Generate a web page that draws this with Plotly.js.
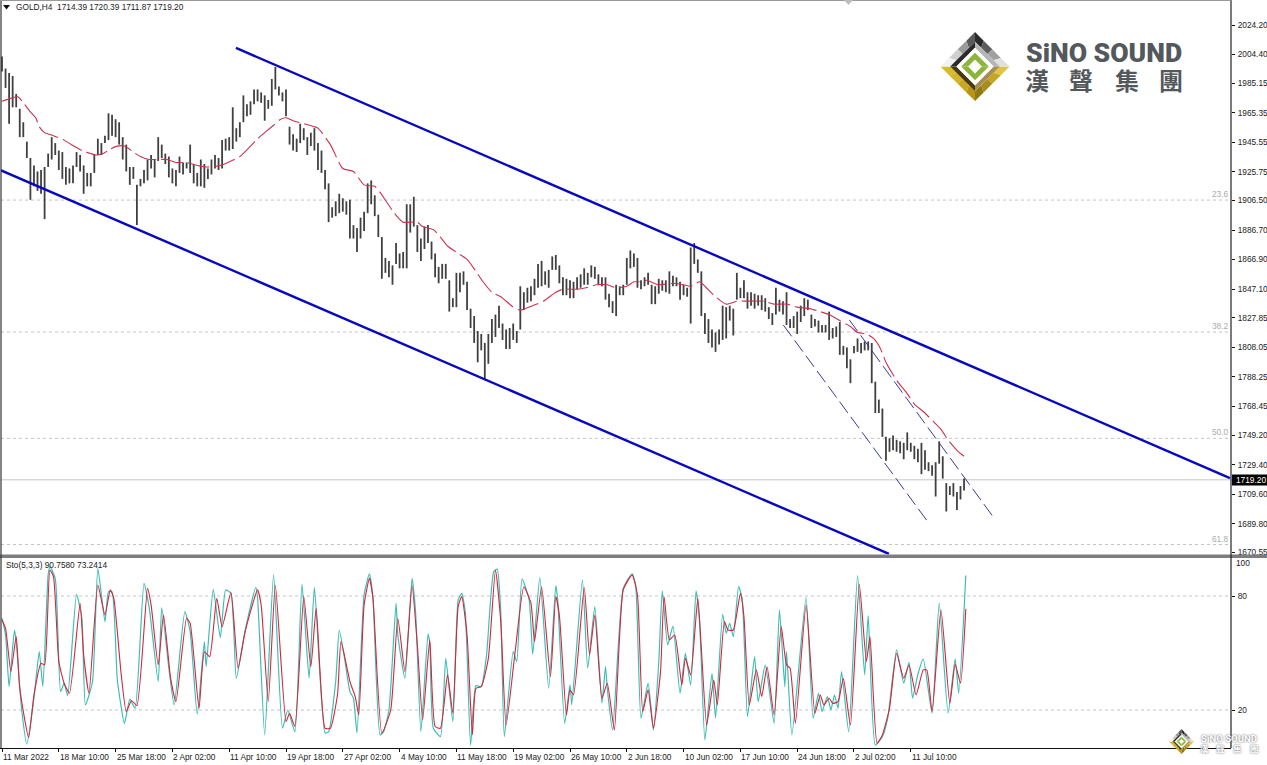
<!DOCTYPE html>
<html><head><meta charset="utf-8">
<script src="https://cdn.plot.ly/plotly-3.0.1.min.js"></script>
<style>html,body{margin:0;padding:0;background:#fff;overflow:hidden}#c{width:1267px;height:765px}</style>
</head><body><div id="c"></div>
<script>
// Bar highs and lows (one drawn bar per two H4 bars)
var barHigh=[2003,1995,1992,1990,1978,1968,1959,1946,1935,1930,1926,1927,1929,1938,1949,1945,1940,1939,1929,1928,1930,1939,1937,1930,1925,1925,1937,1948,1945,1950,
1965,1964,1961,1959,1949,1944,1929,1929,1917,1921,1927,1934,1937,1934,1949,1944,1938,1936,1928,1927,1936,1932,1932,1944,1931,1925,1934,1931,1928,1934,
1937,1935,1947,1948,1949,1969,1955,1959,1977,1971,1973,1981,1981,1979,1977,1974,1988,1996,1983,1979,1981,1956,1951,1948,1958,1955,1949,1952,1955,1945,
1940,1927,1918,1902,1906,1911,1908,1906,1907,1890,1888,1895,1899,1918,1920,1910,1897,1882,1868,1866,1863,1878,1871,1872,1904,1904,1909,1890,1881,1889,
1890,1879,1871,1862,1864,1864,1853,1841,1858,1858,1859,1852,1834,1829,1819,1817,1811,1817,1827,1830,1836,1824,1820,1821,1824,1819,1849,1845,1848,1849,
1854,1864,1866,1859,1860,1869,1870,1863,1855,1854,1853,1852,1855,1857,1861,1858,1863,1862,1857,1855,1855,1844,1839,1850,1849,1850,1868,1873,1871,1868,
1853,1855,1858,1850,1849,1854,1853,1853,1859,1856,1855,1852,1850,1848,1875,1878,1867,1859,1831,1827,1820,1818,1820,1836,1835,1836,1834,1858,1848,1853,
1845,1845,1844,1843,1843,1841,1835,1831,1848,1840,1839,1845,1827,1829,1832,1836,1841,1840,1830,1827,1826,1823,1823,1832,1821,1822,1825,1809,1808,1800,
1809,1814,1811,1812,1812,1811,1785,1773,1767,1748,1747,1749,1746,1745,1744,1751,1744,1742,1740,1744,1739,1731,1729,1731,1745,1735,1717,1715,1717,1711,1715,1720];
var barLow=[1993,1982,1958,1969,1969,1949,1949,1935,1907,1916,1913,1911,1894,1929,1934,1937,1927,1921,1917,1918,1918,1929,1926,1911,1916,1916,1925,1937,1937,1945,
1947,1950,1949,1944,1934,1926,1917,1921,1890,1916,1918,1920,1928,1922,1933,1935,1931,1922,1918,1916,1925,1924,1928,1925,1918,1916,1916,1915,1921,1924,
1928,1927,1928,1940,1940,1941,1946,1949,1959,1963,1964,1971,1973,1972,1960,1968,1970,1981,1977,1973,1963,1944,1940,1939,1945,1947,1937,1943,1940,1927,
1925,1914,1892,1895,1896,1898,1899,1897,1881,1881,1872,1881,1886,1898,1904,1896,1882,1854,1858,1855,1850,1864,1861,1861,1861,1885,1889,1872,1866,1874,
1878,1867,1855,1851,1854,1854,1832,1835,1835,1845,1850,1833,1821,1811,1798,1806,1786,1797,1811,1815,1821,1813,1807,1807,1813,1811,1820,1833,1838,1839,
1843,1848,1849,1850,1848,1860,1860,1851,1843,1843,1841,1841,1847,1848,1850,1850,1855,1854,1850,1849,1840,1835,1831,1829,1843,1843,1850,1861,1862,1848,
1847,1849,1850,1837,1837,1844,1846,1845,1844,1849,1849,1840,1843,1842,1824,1864,1858,1829,1817,1811,1808,1805,1810,1813,1814,1826,1816,1840,1841,1841,
1834,1836,1834,1836,1833,1832,1827,1823,1830,1832,1830,1823,1821,1821,1817,1825,1829,1833,1821,1822,1818,1818,1818,1813,1814,1815,1803,1803,1794,1784,
1804,1805,1804,1806,1806,1784,1764,1764,1748,1732,1738,1739,1738,1737,1733,1739,1738,1733,1731,1723,1726,1725,1722,1708,1730,1720,1698,1709,1708,1699,1706,1712];

// Moving average
var maIdx=[0,5,9,12,16,19,21,24,29,35,39,45,50,53,57,61,65,69,74,78,83,87,93,98,104,110,115,123,129,134,140,144,149,153,157,160,164,170,176,178,185,192,198,204,210,213,217,221,226,234,237,243,247,251,257,262,267,271,276,281,288,292,299,305,312,316,324,329,335,341,346,352,356,359,363,370,378,384,388,393,396,401,408,414,420,429,435,442,448,455,461,466,472,478,482,487,491,495,498,504,510,514,519,525,529,533,538,542];
var maVal=[1973,1975,1976,1972,1966,1962,1956,1952,1950,1947,1944,1940,1938,1937,1938,1941,1943,1943,1939,1936,1934,1934,1934,1932,1932,1930,1929,1930,1933,1936,1943,1948,1953,1957,1961,1962,1960,1958,1956,1955,1944,1928,1926,1917,1916,1912,1905,1898,1892,1892,1889,1887,1882,1876,1871,1867,1859,1852,1845,1842,1835,1833,1836,1839,1845,1847,1847,1848,1850,1850,1848,1849,1852,1852,1853,1850,1851,1850,1849,1852,1849,1843,1837,1839,1839,1839,1837,1837,1835,1834,1832,1830,1826,1822,1818,1817,1814,1807,1798,1786,1777,1770,1765,1758,1753,1746,1739,1735];

// Stochastic
var kIdx=[0,2,4,7,8,11,14,18,21,23,26,27,30,33,35,37,42,45,47,51,54,58,60,62,65,69,72,75,80,83,88,90,94,97,103,106,110,114,115,119,123,126,129,132,137,143,144,148,153,158,161,165,169,173,176,182,184,188,190,193,196,198,200,204,207,209,213,215,218,222,223,227,231,233,236,240,241,243,247,250,254,257,259,261,264,267,270,273,277,279,281,283,288,290,293,297,299,303,308,312,313,317,320,321,327,330,334,338,340,341,344,350,355,357,360,364,367,370,372,375,378,382,385,388,391,393,396,400,402,406,408,410,412,415,417,420,424,426,430,435,438,441,442,445,453,457,460,462,465,467,469,471,473,477,482,486,488,492,496,499,504,508,511,513,516,519,524,528,533,537,539,543];
var kVal=[68.3,59.5,32.3,62.1,56,20.9,2,26.2,50.7,32.3,91.1,95.5,89.3,29.7,34.1,27.6,80.9,68.3,22.7,35,94.6,66.5,82.3,82.3,35.8,13,25.8,20.9,86.7,73.5,35,73.9,42,22.7,71.8,61.3,17.8,56,42.8,83.5,58.1,83.2,81.4,36.7,62.1,84.6,78.8,6.9,91.1,10.4,20,8.6,86.2,36.7,84.6,7.8,8.6,35,62.1,47.2,29.7,26.2,7.8,80.6,91.6,78.8,6.9,8.6,20,76.2,59.5,36.7,89.3,71.8,8.6,60,55.1,10.4,6,47.2,13.9,77.9,81.4,71.8,1.6,32.8,32.3,49,92.8,94.2,71.8,6,50.7,45.5,89,77.9,49.3,89.8,31.4,85.5,78.8,13,33.2,22.7,88.4,42,74.4,23.5,42.8,31.4,9.5,84,91.6,85.8,15.7,34.1,9.5,45,82.7,54.2,64.2,28.8,49.8,33.2,82.7,66.5,4.3,39.3,15.7,70.4,60.4,65.6,58.6,84.9,78.8,16.5,48.1,24.4,43.7,13,72.7,32.3,50.7,6.9,79.1,15.7,28.8,19.2,27.1,20,27.9,20.9,40.2,8.6,90.7,38.5,69.7,1.6,6,15.7,51.6,34.1,45.1,26.2,38.8,46.9,18.3,76.2,18.3,46.9,28.8,90.76];
var dIdx=[0,2,5,8,10,15,18,22,24,27,29,32,35,38,44,46,49,54,58,61,63,67,70,73,76,82,84,88,91,95,98,104,106,111,114,117,121,124,129,133,137,144,146,150,154,160,162,165,170,174,177,182,185,189,191,196,199,201,204,207,209,214,219,223,227,231,234,237,241,244,247,251,254,257,259,262,265,267,270,274,278,281,284,289,294,298,300,304,309,312,314,318,320,322,328,331,334,338,341,345,350,355,358,361,364,367,371,373,376,379,383,385,388,392,394,397,401,403,407,409,412,416,418,421,425,428,431,435,439,442,444,447,453,458,461,463,466,468,471,474,478,483,487,489,493,496,500,504,508,511,515,519,521,524,529,534,537,540,543];
var dVal=[67.4,63,40.2,58.6,31.4,5.5,27.9,44.6,43.7,93.7,90.2,45.5,34.1,28.8,76.2,49,28.8,85.8,70,83.2,78.8,40.2,19.2,25,22.3,84,75.3,43.7,70,36.7,24.4,68.3,65.6,20.9,50.7,48.1,78.8,63.9,81.8,42,61.3,83.2,75.3,24.4,85.8,13.9,18.3,11.3,79.7,42.8,73.5,10.4,10.4,27.9,56,35,27,17.4,75.3,89.3,78.8,7.8,20,68.3,40.2,85.5,54.2,14.8,56.9,11.3,10.4,38.5,18.3,74.4,79.7,59.5,6.9,31.4,32.3,47.2,93.7,66.5,12.1,49.9,84.9,76.2,56,84.9,37.6,79.7,70,17.4,30.6,27.9,84.6,49,70,26.2,34.1,9.5,83.2,91.1,80.6,19.2,30.6,10.4,40.2,79.7,56.9,59.5,33.2,47.2,38.5,78.8,52.5,12.1,35.8,22.7,66.5,62.1,62.1,81.4,69.2,22.7,41.1,27.1,42.8,17.4,63.9,43.7,42,13,75.3,18.3,27.9,22.7,26.2,23.5,24.4,36.7,12.1,86.2,45.5,58.6,2.5,6.9,20.9,49.9,36.7,43.7,27.9,41.1,41.1,19.2,72.7,23.5,44.1,34.1,73.24];

// Axes
var priceTicks=[2024.20,2004.40,1985.15,1965.35,1945.55,1925.75,1906.50,1886.70,1866.90,1847.10,1827.85,1808.05,1788.25,1768.45,1749.20,1729.40,1709.60,1689.80,1670.55];
var dateIdx=[0,32,64,96,128,160,192,224,256,288,320,352,384,416,448,480,512];
var dateLabels=["11 Mar 2022","18 Mar 10:00","25 Mar 18:00","2 Apr 02:00","11 Apr 10:00","19 Apr 18:00","27 Apr 02:00","4 May 10:00","11 May 18:00","19 May 02:00","26 May 10:00","2 Jun 18:00","10 Jun 02:00","17 Jun 10:00","24 Jun 18:00","2 Jul 02:00","11 Jul 10:00"];

// Drawn objects
var fibLevels=[1906.8,1818.3,1747,1675.8];
var fibLabels=["23.6","38.2","50.0","61.8"];
var lastPrice=1719.20;
var channels=[[131.8,2008.8,691.8,1720.4],[-1.1,1927,499.7,1669.5]];
var thinLines=[[440.2,1823,521,1692],[477.4,1826.4,558,1695]];
var brandChars=["漢","聲","集","團"];

var W=1267,H=765,FONT='"Liberation Sans",Arial,sans-serif',BRAND='Roboto,"Liberation Sans",sans-serif',CJK='"Noto Sans CJK TC",sans-serif';
function px(x){return x/W} function py(y){return 1-y/H}
function poly(p){return 'M'+p.map(function(q){return q[0]+','+q[1]}).join(' L')+' Z'}
function sh(p,c){return {type:'path',xref:'paper',yref:'paper',layer:'above',line:{width:0},fillcolor:c,path:poly(p.map(function(q){return [px(q[0]),py(q[1])]}))}}

var stemX=[],stemY=[];
barHigh.forEach(function(h,i){stemX.push(i*2,i*2,null);stemY.push(barLow[i],h,null)});
var traces=[
 {type:'scatter',mode:'lines',x:stemX,y:stemY,connectgaps:false,line:{color:'#404040',width:1.8},xaxis:'x',yaxis:'y',hoverinfo:'skip'},
 {type:'scatter',mode:'lines',x:maIdx,y:maVal,line:{color:'#cc3350',width:1.1,dash:'22px,5px',shape:'spline',smoothing:0.6},xaxis:'x',yaxis:'y',hoverinfo:'skip'},
 {type:'scatter',mode:'lines',x:kIdx,y:kVal,line:{color:'#3fbdb5',width:1.2,shape:'spline',smoothing:0.5},xaxis:'x2',yaxis:'y2',hoverinfo:'skip'},
 {type:'scatter',mode:'lines',x:dIdx,y:dVal,line:{color:'#d2263a',width:1.1,shape:'spline',smoothing:0.5},xaxis:'x2',yaxis:'y2',hoverinfo:'skip'}
];

var shapes=[];
fibLevels.forEach(function(v){shapes.push({type:'line',xref:'paper',yref:'y',x0:px(1),x1:px(1231),y0:v,y1:v,layer:'below',line:{color:'#c4c4c4',width:1,dash:'3px,3px'}})});
shapes.push({type:'line',xref:'paper',yref:'y',x0:px(1),x1:px(1231),y0:lastPrice,y1:lastPrice,layer:'below',line:{color:'#c6c6cc',width:1}});
channels.forEach(function(c){shapes.push({type:'line',xref:'x',yref:'y',x0:c[0],y0:c[1],x1:c[2],y1:c[3],line:{color:'#0808c0',width:2.4}})});
thinLines.forEach(function(c){shapes.push({type:'line',xref:'x',yref:'y',x0:c[0],y0:c[1],x1:c[2],y1:c[3],line:{color:'#3a3a9a',width:1,dash:'14px,5px'}})});
[80,20].forEach(function(v){shapes.push({type:'line',xref:'paper',yref:'y2',x0:px(1),x1:px(1231),y0:v,y1:v,layer:'below',line:{color:'#c4c4c4',width:1,dash:'3px,3px'}})});
// pane separator, frame
shapes.push({type:'rect',xref:'paper',yref:'paper',x0:0,x1:1,y0:py(558),y1:py(554.5),layer:'above',line:{width:0},fillcolor:'#7d7d7d'});
shapes.push({type:'line',xref:'paper',yref:'paper',x0:0,x1:px(1231),y0:py(748.5),y1:py(748.5),layer:'above',line:{color:'#111',width:1.2}});
shapes.push({type:'line',xref:'paper',yref:'paper',x0:px(1),x1:px(1),y0:py(0),y1:py(748),layer:'above',line:{color:'#333',width:1.2}});
shapes.push({type:'line',xref:'paper',yref:'paper',x0:px(1231),x1:px(1231),y0:py(0),y1:py(748),layer:'above',line:{color:'#222',width:1.2}});
shapes.push({type:'line',xref:'paper',yref:'paper',x0:0,x1:px(1231),y0:py(0.5),y1:py(0.5),layer:'above',line:{color:'#999',width:1}});
shapes.push(sh([[844,0],[853,0],[848.5,5]],'#bdbdbd'));
shapes.push(sh([[3,5],[10,5],[6.5,9.5]],'#111'));
shapes.push({type:'rect',xref:'paper',yref:'paper',x0:px(1232),x1:px(1267),y0:py(485.5),y1:py(474.5),layer:'above',line:{width:0},fillcolor:'#000'});
// brand marks
function logo(cx,cy,r){
 var T=[0,-1],R=[1,0],B=[0,1],L=[-1,0];
 function seg(a,b,t0,t1,ro,ri,c){
  function E(t,k){return [cx+r*k*(a[0]*(1-t)+b[0]*t),cy+r*k*(a[1]*(1-t)+b[1]*t)]}
  shapes.push(sh([E(t0,ro),E(t1,ro),E(t1,ri),E(t0,ri)],c));
 }
 var tl=['#5a5a5a','#9a9a9a','#cfcfcf','#f2f2f2'],tr=['#2a2a2a','#5c5c5c','#a0a0a0','#e0e0e0'];
 var bl=['#d8bb2c','#d4b428','#c9a81e','#b89614'],br=['#e0c640','#c4a620','#a88e18','#8f7a12'];
 for(var i=0;i<4;i++){
  seg(T,L,i/4,(i+1)/4,1,0.72,tl[i]);
  seg(T,R,i/4,(i+1)/4,1,0.72,tr[i]);
  seg(L,B,i/4,(i+1)/4,1,0.72,bl[i]);
  seg(R,B,i/4,(i+1)/4,1,0.72,br[i]);
 }
 seg(T,L,0,1,0.72,0.54,'#2b2b2b');
 seg(T,R,0,1,0.72,0.54,'#b5b5b5');
 seg(L,B,0,1,0.72,0.54,'#4a3a12');
 seg(R,B,0,1,0.72,0.54,'#a88c52');
 seg(T,R,0,1,0.54,0,'#ffffff');seg(R,B,0,1,0.54,0,'#ffffff');seg(B,L,0,1,0.54,0,'#ffffff');seg(L,T,0,1,0.54,0,'#ffffff');
 seg(T,R,0,1,0.4,0.2,'#8db53c');seg(R,B,0,1,0.4,0.2,'#8db53c');seg(B,L,0,1,0.4,0.2,'#8db53c');seg(L,T,0,1,0.4,0.2,'#8db53c');
}
logo(975,66.5,34.5); logo(1181.5,741.5,12.5);

function note(t,x,y,o){return Object.assign({text:t,x:px(x),y:py(y),xref:'paper',yref:'paper',xanchor:'left',yanchor:'middle',showarrow:false,borderpad:0,font:{family:FONT,size:8.3,color:'#222'}},o||{})}
var ann=[
 note('GOLD,H4  1714.39 1720.39 1711.87 1719.20',15,7.5),
 note('Sto(5,3,3) 90.7580 73.2414',5,565),
 note('100',1235,563),
 note('SiNO SOUND',1025,52.5,{font:{family:BRAND,size:26.6,color:'#53585c',weight:900}}),
 note('SiNO SOUND',1200,738,{font:{family:BRAND,size:9.6,color:'#ffffff',weight:700,shadow:'0 0 2px #444'}}),
 {text:lastPrice.toFixed(2),x:px(1235),y:py(480),xref:'paper',yref:'paper',xanchor:'left',yanchor:'middle',showarrow:false,borderpad:0,font:{family:FONT,size:8.3,color:'#fff'}}
];
[1037,1080.5,1126.5,1170.5].forEach(function(cx,i){ann.push({text:brandChars[i],x:px(cx),y:py(79.5),xref:'paper',yref:'paper',xanchor:'center',yanchor:'middle',showarrow:false,borderpad:0,font:{family:CJK,size:24,color:'#53585c',weight:700}})});
[1204,1220,1237,1254].forEach(function(cx,i){ann.push({text:brandChars[i],x:px(cx),y:py(748),xref:'paper',yref:'paper',xanchor:'center',yanchor:'middle',showarrow:false,borderpad:0,font:{family:CJK,size:8.5,color:'#ffffff',weight:700,shadow:'0 0 2px #444'}})});
fibLevels.forEach(function(v,i){ann.push({text:fibLabels[i],x:px(1230),y:v,xref:'paper',yref:'y',xanchor:'right',yanchor:'bottom',showarrow:false,borderpad:0,font:{family:FONT,size:8.3,color:'#aaaaaa'}})});
dateIdx.forEach(function(v,i){ann.push({text:dateLabels[i],x:v,y:py(757),xref:'x2',yref:'paper',xanchor:'left',yanchor:'middle',showarrow:false,borderpad:0,font:{family:FONT,size:8.3,color:'#222'}})});

var xr=[-0.563,692.4];
var layout={width:W,height:H,margin:{l:0,r:0,t:0,b:0},paper_bgcolor:'#fff',plot_bgcolor:'#fff',showlegend:false,
 xaxis:{domain:[px(1),px(1231)],range:xr,showgrid:false,zeroline:false,showticklabels:false,ticks:'',anchor:'y',fixedrange:true,showline:false},
 xaxis2:{domain:[px(1),px(1231)],range:xr,showgrid:false,zeroline:false,showticklabels:false,ticks:'outside',ticklen:3,tickcolor:'#111',tickmode:'array',tickvals:dateIdx,anchor:'y2',showline:false},
 yaxis:{domain:[py(554.5),1],range:[2024.2-0.6706*529.5,2024.2+0.6706*25],side:'right',anchor:'x',showgrid:false,zeroline:false,showline:false,ticks:'outside',ticklen:3,tickcolor:'#111',tickmode:'array',tickvals:priceTicks,ticktext:priceTicks.map(function(v){return v.toFixed(2)}),tickfont:{family:FONT,size:8.3,color:'#222'},ticklabelstandoff:1},
 yaxis2:{domain:[py(748),py(558)],range:[0,100],side:'right',anchor:'x2',showgrid:false,zeroline:false,showline:false,ticks:'outside',ticklen:3,tickcolor:'#111',tickmode:'array',tickvals:[80,20],ticktext:['80','20'],tickfont:{family:FONT,size:8.3,color:'#222'},ticklabelstandoff:1},
 shapes:shapes,annotations:ann};
Plotly.newPlot('c',traces,layout,{displayModeBar:false,staticPlot:true});
</script></body></html>
